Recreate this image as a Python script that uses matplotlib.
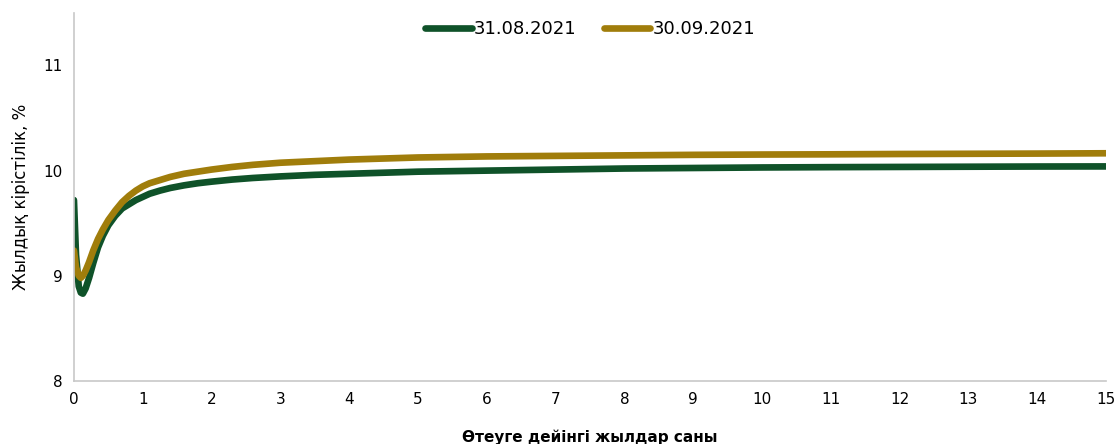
import matplotlib
matplotlib.use('Agg')
import matplotlib.pyplot as plt

# maturity in years
years = [0, 0.03, 0.07, 0.1, 0.13, 0.17, 0.22, 0.28, 0.35, 0.42, 0.5, 0.6, 0.7, 0.8, 0.9,
         1.0, 1.1, 1.25, 1.4, 1.6, 1.8, 2.0, 2.3, 2.6, 3.0, 3.5, 4, 4.5, 5, 6, 7, 8, 9,
         10, 11, 12, 13, 14, 15]

yield_aug = [9.72, 9.2, 8.9, 8.84, 8.83, 8.88, 8.98, 9.12, 9.27, 9.38, 9.48, 9.57, 9.64,
             9.68, 9.72, 9.75, 9.78, 9.81, 9.835, 9.86, 9.88, 9.895, 9.915, 9.93, 9.945,
             9.96, 9.97, 9.98, 9.99, 10.0, 10.01, 10.02, 10.025, 10.03, 10.033, 10.035,
             10.037, 10.039, 10.04]

yield_sep = [9.24, 9.08, 9.0, 8.98, 9.0, 9.05, 9.13, 9.24, 9.35, 9.44, 9.53, 9.62, 9.7,
             9.76, 9.81, 9.85, 9.88, 9.91, 9.94, 9.97, 9.99, 10.01, 10.035, 10.055, 10.075,
             10.09, 10.105, 10.115, 10.125, 10.135, 10.14, 10.145, 10.15, 10.153, 10.155,
             10.158, 10.16, 10.162, 10.165]

labels = ['31.08.2021', '30.09.2021']
colors = ['#0f5229', '#a07d0b']

plt.rcParams['font.family'] = ['DejaVu Sans']

fig = plt.figure(figsize=(11.17, 4.44), dpi=100)
ax = fig.add_axes([0.0662, 0.142, 0.924, 0.829])

ax.plot(years, yield_aug, color=colors[0], lw=4.8, label=labels[0], solid_capstyle='round')
ax.plot(years, yield_sep, color=colors[1], lw=4.8, label=labels[1], solid_capstyle='round')

ax.set_xlim(0, 15)
ax.set_ylim(8, 11.5)
ax.set_xticks(range(0, 16))
ax.set_yticks([8, 9, 10, 11])
ax.tick_params(length=0, labelsize=11, pad=8)

for s in ['top', 'right']:
    ax.spines[s].set_visible(False)
for s in ['left', 'bottom']:
    ax.spines[s].set_color('#c8c8c8')
    ax.spines[s].set_linewidth(1.2)

ax.set_xlabel('Өтеуге дейінгі жылдар саны', fontsize=11, fontweight='bold', labelpad=16)
ax.set_ylabel('Жылдық кірістілік, %', fontsize=12, labelpad=10)

ax.legend(loc='upper center', bbox_to_anchor=(0.5, 1.025), ncol=2, frameon=False,
          fontsize=13, handlelength=2.6, handletextpad=0.1, columnspacing=1.5)

fig.savefig('out.png', dpi=100)
